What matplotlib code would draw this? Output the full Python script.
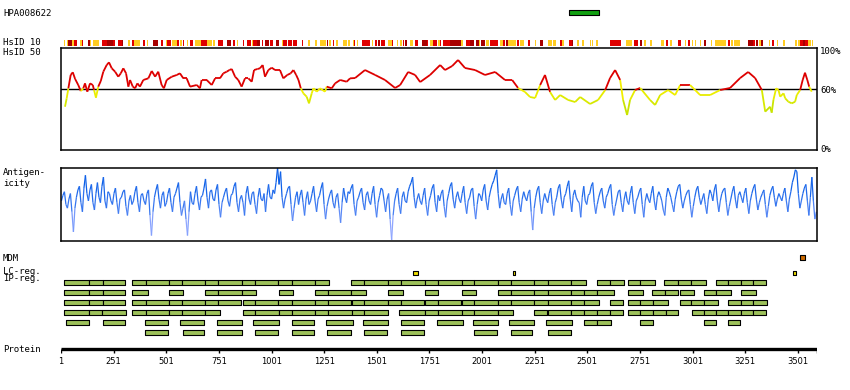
import matplotlib
matplotlib.use("Agg")
import matplotlib.pyplot as plt
import numpy as np
from matplotlib.collections import LineCollection
from matplotlib.colors import LinearSegmentedColormap

W, H = 850, 390
LENGTH = 3592

antibody_id = "HPA008622"
antigen_span = (2414, 2558)

# HsID 10 identity bar, residue ranges per level
hsid10_yellow = [(15, 20), (31, 36), (55, 63), (91, 99), (139, 142), (154, 183), (321, 329), (348, 376),
                 (408, 416), (500, 506), (527, 550), (566, 574), (598, 603), (638, 664), (693, 717),
                 (725, 733), (835, 843), (907, 915), (1049, 1057), (1176, 1184), (1208, 1216),
                 (1231, 1260), (1276, 1282), (1307, 1319), (1339, 1358), (1366, 1374), (1387, 1393),
                 (1406, 1414), (1477, 1485), (1556, 1572), (1596, 1604), (1612, 1620), (1659, 1675),
                 (1754, 1767), (1794, 1802), (1903, 1911), (1985, 1990), (2022, 2033), (2085, 2101),
                 (2125, 2164), (2180, 2201), (2251, 2259), (2315, 2331), (2338, 2350), (2381, 2391),
                 (2454, 2462), (2478, 2486), (2513, 2517), (2524, 2529), (2544, 2552), (2687, 2711),
                 (2771, 2779), (2798, 2806), (2850, 2866), (2893, 2901), (2964, 2972), (2999, 3004),
                 (3012, 3016), (3035, 3043), (3088, 3094), (3107, 3162), (3183, 3194), (3199, 3226),
                 (3316, 3325), (3363, 3371), (3400, 3408), (3431, 3439), (3487, 3495), (3503, 3511),
                 (3550, 3563), (3566, 3574)]
hsid10_red = [(63, 75), (99, 104), (194, 218), (249, 257), (273, 289), (337, 348), (392, 400), (476, 487),
              (506, 522), (554, 561), (579, 585), (614, 630), (668, 674), (677, 693), (748, 772), (816, 827),
              (864, 870), (886, 902), (915, 930), (954, 962), (994, 1010), (1057, 1073), (1081, 1097),
              (1105, 1124), (1144, 1152), (1292, 1298), (1393, 1398), (1429, 1469), (1493, 1501),
              (1520, 1540), (1572, 1580), (1624, 1631), (1683, 1699), (1738, 1746), (1770, 1786),
              (1800, 1805), (1816, 1847), (1927, 1942), (2041, 2077), (2101, 2112), (2169, 2175),
              (2217, 2228), (2370, 2381), (2414, 2426), (2608, 2663), (2723, 2742), (2877, 2885),
              (2932, 2945), (2980, 2988), (3167, 3178), (3289, 3297), (3376, 3389), (3511, 3526),
              (3534, 3547)]
hsid10_dark = [(36, 55), (131, 139), (218, 249), (289, 297), (439, 463), (788, 807), (930, 946), (970, 990),
               (1022, 1035), (1263, 1268), (1509, 1517), (1635, 1643), (1714, 1738), (1847, 1903),
               (1942, 1963), (1974, 1985), (1998, 2014), (2117, 2125), (2275, 2291), (2426, 2434),
               (2750, 2761), (3054, 3064), (3265, 3289), (3302, 3313), (3328, 3336), (3526, 3534)]

# HsID 50 identity curve (residue, percent)
hsid50_res = [20, 28, 36, 47, 57, 68, 83, 95, 107, 115, 126, 139, 152, 158, 167, 178, 190, 202, 218, 229,
              242, 258, 273, 285, 297, 310, 321, 329, 342, 353, 364, 376, 392, 416, 432, 448, 463, 479,
              490, 503, 527, 551, 566, 582, 598, 614, 646, 661, 669, 693, 717, 733, 756, 772, 788, 801,
              812, 828, 843, 859, 875, 891, 907, 918, 934, 946, 959, 970, 986, 1002, 1018, 1041, 1057,
              1076, 1092, 1105, 1118, 1129, 1140, 1152, 1168, 1179, 1192, 1200, 1216, 1231, 1255, 1263,
              1287, 1303, 1327, 1358, 1374, 1398, 1445, 1493, 1540, 1588, 1612, 1650, 1683, 1707, 1754,
              1802, 1825, 1859, 1887, 1920, 1968, 2015, 2063, 2110, 2144, 2172, 2205, 2229, 2253, 2277,
              2300, 2324, 2348, 2372, 2410, 2443, 2467, 2514, 2552, 2586, 2609, 2633, 2657, 2671, 2690,
              2704, 2728, 2752, 2799, 2823, 2847, 2885, 2918, 2942, 2989, 3037, 3084, 3132, 3179, 3227,
              3265, 3298, 3330, 3346, 3369, 3377, 3385, 3398, 3409, 3417, 3433, 3441, 3456, 3472, 3488,
              3496, 3512, 3524, 3535, 3546, 3555, 3567]
hsid50_pct = [42.7, 50.9, 60.7, 73.7, 76.3, 69.8, 63.9, 58.0, 60.7, 65.5, 57.4, 65.5, 63.9, 59.0, 51.5,
              62.3, 67.8, 76.9, 83.4, 86.0, 80.2, 76.9, 72.0, 75.3, 80.2, 75.3, 62.3, 68.8, 62.3, 60.7,
              65.5, 62.3, 68.8, 70.4, 77.6, 72.0, 76.9, 63.9, 60.7, 68.8, 72.0, 73.7, 75.3, 70.4, 70.4,
              62.3, 63.9, 60.7, 68.8, 68.8, 63.9, 70.4, 70.4, 75.3, 76.9, 78.5, 79.5, 72.0, 68.8, 62.3,
              70.4, 70.4, 67.1, 78.5, 79.5, 80.2, 83.4, 72.0, 78.5, 80.8, 78.5, 78.5, 70.4, 73.7, 75.3,
              78.5, 73.7, 68.8, 60.7, 55.8, 52.5, 46.0, 55.8, 60.7, 57.4, 60.7, 57.4, 62.3, 60.7, 65.5,
              68.8, 67.1, 70.4, 70.7, 78.5, 73.7, 68.8, 61.0, 63.9, 76.6, 73.7, 66.8, 73.7, 83.4, 78.5,
              82.4, 88.3, 80.5, 78.5, 73.7, 76.6, 68.8, 68.8, 61.0, 57.1, 52.2, 51.2, 63.9, 73.7, 57.1,
              49.3, 54.1, 49.3, 47.3, 52.2, 45.4, 49.3, 59.0, 70.7, 78.5, 68.8, 49.3, 34.6, 49.3, 59.0,
              61.0, 49.3, 44.4, 54.1, 59.0, 54.1, 63.9, 63.9, 54.1, 54.1, 59.0, 61.0, 70.7, 76.6, 70.7,
              59.0, 37.9, 42.7, 36.9, 49.3, 60.7, 59.0, 52.5, 55.8, 50.9, 47.6, 46.0, 47.6, 54.1, 59.0,
              68.8, 75.9, 68.8, 62.2, 57.4]

# antigenicity score (box top = 1, bottom = -1); two interleaved samplings, ~7 residues apart
antigenicity_a = [0.1, 0.35, -0.1, 0.3, -0.75, 0.2, 0.5, -0.2, 0.8, 0.1, 0.55, -0.15,
                  0.6, 0.05, 0.75, -0.1, 0.3, 0.0, 0.45, -0.25, 0.2, 0.4, -0.3, 0.25,
                  0.1, 0.5, -0.2, 0.3, 0.0, 0.4, -0.85, 0.2, 0.55, -0.1, 0.35, 0.05,
                  0.45, -0.2, 0.3, 0.6, -0.3, 0.1, -0.85, 0.35, 0.0, 0.5, -0.15, 0.25,
                  0.7, -0.1, 0.4, 0.1, 0.55, -0.35, 0.2, 0.45, -0.05, 0.3, 0.6, -0.2,
                  0.25, -0.3, 0.5, 0.0, 0.35, -0.25, 0.45, 0.1, -0.2, 0.55, 0.15, 0.3,
                  1.0, 0.9, -0.1, 0.3, 0.5, -0.45, 0.2, 0.0, 0.4, -0.3, 0.35, 0.1,
                  0.5, -0.2, 0.25, 0.6, -0.4, 0.15, 0.4, -0.1, 0.3, -0.5, 0.45, 0.05,
                  0.3, 0.55, -0.3, 0.2, 0.45, -0.15, 0.35, 0.0, 0.5, -0.35, 0.25, 0.4,
                  -0.2, 0.3, -0.97, 0.1, 0.45, -0.25, 0.35, 0.05, 0.5, 0.75, -0.1, 0.3,
                  0.0, 0.45, -0.3, 0.25, 0.55, -0.2, 0.1, 0.4, -0.35, 0.3, 0.6, -0.1,
                  0.35, 0.05, 0.5, -0.25, 0.2, 0.45, -0.4, 0.3, 0.1, 0.55, -0.15, 0.4,
                  0.65, 0.95, -0.1, 0.3, 0.0, 0.45, -0.3, 0.25, 0.5, -0.2, 0.35, 0.1,
                  0.4, -0.7, 0.2, 0.5, -0.25, 0.3, 0.05, 0.45, -0.3, 0.2, 0.55, -0.1,
                  0.3, 0.65, -0.2, 0.4, 0.1, -0.35, 0.5, 0.0, 0.3, 0.6, -0.25, 0.2,
                  0.45, -0.1, 0.3, 0.55, -0.3, 0.15, 0.4, -0.2, 0.35, 0.0, 0.5, -0.25,
                  0.2, 0.45, -0.35, 0.3, 0.05, 0.5, -0.15, 0.35, 0.1, -0.3, 0.45, 0.2,
                  -0.2, 0.35, 0.55, -0.1, 0.25, 0.4, -0.35, 0.2, 0.5, 0.0, 0.3, -0.25,
                  0.4, 0.1, 0.55, -0.2, 0.3, 0.45, -0.3, 0.15, 0.5, -0.1, 0.35, 0.05,
                  0.45, -0.25, 0.3, 0.55, -0.15, 0.2, 0.4, -0.35, 0.25, 0.5, -0.05, 0.3,
                  0.1, 0.45, -0.2, 0.35, 0.75, 0.9, -0.1, 0.3, 0.55, -0.3, 0.75, -0.4]
antigenicity_b = [0.25, 0.0, 0.15, -0.2, -0.1, 0.4, 0.05, 0.45, 0.3, 0.4, 0.05, 0.3,
                  0.2, 0.5, 0.1, 0.35, 0.1, 0.3, 0.05, 0.15, 0.35, -0.05, 0.1, 0.0,
                  0.35, 0.05, 0.25, 0.1, 0.3, -0.3, -0.2, 0.4, 0.15, 0.25, -0.05, 0.3,
                  0.05, 0.2, 0.45, 0.05, -0.1, -0.4, -0.2, 0.05, 0.3, 0.1, 0.2, 0.45,
                  0.2, 0.35, 0.15, 0.4, 0.0, 0.05, 0.35, 0.1, 0.25, 0.5, 0.05, 0.15,
                  0.05, 0.3, 0.15, 0.3, 0.0, 0.2, 0.15, 0.3, 0.25, 0.2, 0.4, 0.6,
                  0.55, 0.2, 0.15, 0.45, 0.0, -0.1, 0.35, 0.25, 0.05, 0.15, 0.0, 0.3,
                  0.1, 0.15, 0.45, 0.0, -0.05, 0.3, 0.05, 0.2, -0.1, 0.05, 0.2, 0.35,
                  0.45, 0.0, 0.1, 0.35, 0.05, 0.25, 0.1, 0.3, 0.0, 0.05, 0.45, 0.1,
                  0.15, -0.4, -0.3, 0.3, 0.0, 0.2, 0.1, 0.35, 0.6, 0.2, 0.15, 0.1,
                  0.25, 0.0, 0.1, 0.45, 0.05, 0.25, 0.3, -0.05, 0.1, 0.5, 0.15, 0.2,
                  0.15, 0.3, 0.05, 0.1, 0.4, -0.05, 0.0, 0.25, 0.4, 0.1, 0.2, 0.55,
                  0.8, 0.3, 0.15, 0.05, 0.3, 0.0, 0.1, 0.4, 0.05, 0.15, 0.2, 0.3,
                  -0.2, -0.1, 0.4, 0.05, 0.1, 0.15, 0.3, 0.0, 0.05, 0.45, 0.15, 0.2,
                  0.5, 0.15, 0.25, 0.2, 0.05, 0.2, 0.1, 0.25, 0.5, 0.05, 0.0, 0.35,
                  0.1, 0.2, 0.45, 0.0, -0.05, 0.35, 0.05, 0.15, 0.1, 0.3, 0.05, 0.1,
                  0.35, 0.0, 0.1, 0.15, 0.3, 0.1, 0.2, 0.25, -0.15, 0.2, 0.35, 0.0,
                  0.15, 0.5, 0.15, 0.1, 0.35, 0.0, -0.05, 0.4, 0.2, 0.15, 0.0, 0.15,
                  0.3, 0.4, 0.1, 0.1, 0.4, 0.05, -0.05, 0.35, 0.15, 0.25, 0.2, 0.3,
                  0.05, 0.1, 0.45, 0.15, 0.05, 0.3, 0.0, -0.05, 0.4, 0.2, 0.15, 0.2,
                  0.3, 0.1, 0.15, 0.6, 0.95, 0.3, 0.1, 0.45, 0.1, 0.2, 0.1, -0.2]

mdm_regions = [(3512, 3536)]
lc_regions = [(1675, 1696), (2148, 2158), (3479, 3492)]

# IP regions: each row is a list of chains of touching boxes (boundaries)
ip_rows = [
    [[17, 135, 199, 305], [340, 403, 515, 574, 685, 748, 862, 922, 1033, 1097, 1208, 1274],
     [1379, 1442, 1556, 1616, 1730, 1794, 1905, 1965, 2079, 2139, 2250, 2313, 2424, 2494],
     [2549, 2609, 2674], [2696, 2752, 2822], [2867, 2934, 2994, 3064], [3113, 3171, 3232, 3290, 3349]],
    [[17, 135, 199, 305], [340, 413], [515, 582], [685, 748, 862, 926], [1037, 1102],
     [1208, 1271, 1379, 1449], [1556, 1625], [1730, 1794], [1907, 1971],
     [2079, 2139, 2250, 2313, 2424, 2487, 2549, 2627], [2696, 2765], [2810, 2871, 2931],
     [2939, 3007], [3053, 3113, 3183], [3232, 3302]],
    [[17, 135, 199, 305], [340, 403, 515, 574, 685, 748, 855], [867, 923, 1033, 1097, 1208, 1271, 1379],
     [1385, 1442, 1556, 1616, 1726], [1730, 1794, 1901], [1907, 1965, 2079, 2139, 2250, 2316, 2424, 2487, 2556],
     [2611, 2670], [2696, 2752, 2812, 2883], [2939, 2994, 3053, 3121], [3167, 3232, 3290, 3354]],
    [[17, 135, 194, 308], [340, 403, 515, 574, 685, 756], [867, 923, 1038, 1097, 1208, 1271, 1385, 1442, 1553],
     [1608, 1730, 1791, 1907, 1965, 2079, 2147], [2250, 2309], [2316, 2424, 2487, 2549, 2611, 2670],
     [2696, 2752, 2812, 2875, 2931], [2996, 3053, 3113, 3171, 3232, 3290, 3349]],
    [[25, 134], [200, 305], [400, 511], [566, 682], [744, 859], [914, 1038], [1097, 1205], [1260, 1387],
     [1437, 1553], [1616, 1724], [1789, 1909], [1960, 2076], [2129, 2247], [2305, 2427],
     [2487, 2549, 2613], [2753, 2812], [3053, 3112], [3171, 3225]],
    [[400, 511], [582, 682], [744, 859], [924, 1030], [1097, 1202], [1266, 1377], [1442, 1548],
     [1616, 1724], [1965, 2071], [2139, 2237], [2316, 2422]],
]

tick_positions = [1, 251, 501, 751, 1001, 1251, 1501, 1751, 2001, 2251, 2501, 2751, 3001, 3251, 3501]

MONO = "DejaVu Sans Mono"


def px_axes(fig, x0, y0, x1, y1):
    return fig.add_axes([x0 / W, 1 - y1 / H, (x1 - x0) / W, (y1 - y0) / H])


def spans(pairs):
    return [(a, b - a) for a, b in pairs]


def as_segments(x, y):
    return np.stack([np.column_stack([x[:-1], y[:-1]]), np.column_stack([x[1:], y[1:]])], axis=1)


fig = plt.figure(figsize=(W / 100, H / 100), dpi=100)

# overlay track axes in pixel rows
track = px_axes(fig, 61, 0, 817, H)
track.set_xlim(1, LENGTH)
track.set_ylim(H, 0)
track.axis("off")

track.broken_barh(spans([antigen_span]), (10, 4.5), facecolors="#11a011", edgecolors="black", linewidth=0.8)

track.broken_barh(spans(hsid10_yellow), (39.5, 6), facecolors="#ffcc22", linewidth=0)
track.broken_barh(spans(hsid10_red), (39.5, 6), facecolors="#e00000", linewidth=0)
track.broken_barh(spans(hsid10_dark), (39.5, 6), facecolors="#a80000", linewidth=0)

track.broken_barh(spans(mdm_regions), (255, 5), facecolors="#cc6a00", edgecolors="black", linewidth=0.8)
track.broken_barh(spans(lc_regions), (270.5, 4.5), facecolors="#eedd00", edgecolors="black", linewidth=0.8)

for i, row in enumerate(ip_rows):
    for chain in row:
        boxes = list(zip(chain[:-1], chain[1:]))
        track.broken_barh(spans(boxes), (280 + 10 * i, 4.5), facecolors="#9dc15a",
                          edgecolors="black", linewidth=0.8)

# protein axis
track.plot([1, LENGTH], [349, 349], color="black", linewidth=2.4, solid_capstyle="butt")
track.vlines(tick_positions + [LENGTH], 349, 353, color="black", linewidth=1)
for t in tick_positions:
    track.text(t, 362, str(t), ha="center", va="center", fontsize=6, family="DejaVu Sans")

# HsID 50 panel
ax50 = px_axes(fig, 61, 48, 817, 150.5)
ax50.set_xlim(1, LENGTH)
ax50.set_ylim(0, 100)
ax50.set_xticks([])
ax50.set_yticks([])
for s in ax50.spines.values():
    s.set_linewidth(1.1)
ax50.axhline(60, color="black", linewidth=1)
res = np.array(hsid50_res, dtype=float)
pct = np.array(hsid50_pct, dtype=float)
mid = (pct[:-1] + pct[1:]) / 2
low_cmap = LinearSegmentedColormap.from_list("low", ["#b8e000", "#f4f000"])
cols = [("#dd0000" if m >= 60 else low_cmap(np.clip((m - 35) / 25, 0, 1))) for m in mid]
ax50.add_collection(LineCollection(as_segments(res, pct), colors=cols, linewidths=1.3))

# antigenicity panel
axag = px_axes(fig, 61, 168, 817, 241)
axag.set_xlim(1, LENGTH)
axag.set_ylim(-1, 1)
axag.set_xticks([])
axag.set_yticks([])
for s in axag.spines.values():
    s.set_linewidth(1.1)
ag = np.empty(len(antigenicity_a) + len(antigenicity_b))
ag[0::2] = antigenicity_a
ag[1::2] = antigenicity_b
ag_x = np.linspace(3, LENGTH - 3, len(ag))
ag_cmap = LinearSegmentedColormap.from_list("ag", ["#8fa6ff", "#3a78f0", "#0b5fe8"])
agmid = (ag[:-1] + ag[1:]) / 2
axag.add_collection(LineCollection(as_segments(ag_x, ag),
                                   colors=ag_cmap(np.clip((agmid + 0.6) / 1.2, 0, 1)), linewidths=0.9))

# labels
labels = [(3, 13, antibody_id), (3, 42.5, "HsID 10"), (3, 52.5, "HsID 50"),
          (820, 52, "100%"), (820, 90.5, "60%"), (820, 150, "0%"),
          (3, 172.5, "Antigen-"), (3, 183.5, "icity"), (3, 258.5, "MDM"),
          (3, 271, "LC-reg."), (3, 278.5, "IP-reg."), (3, 350, "Protein")]
for x, y, s in labels:
    fig.text(x / W, 1 - y / H, s, fontsize=6.5, family=MONO, va="center")

fig.savefig("out.png", dpi=100)
